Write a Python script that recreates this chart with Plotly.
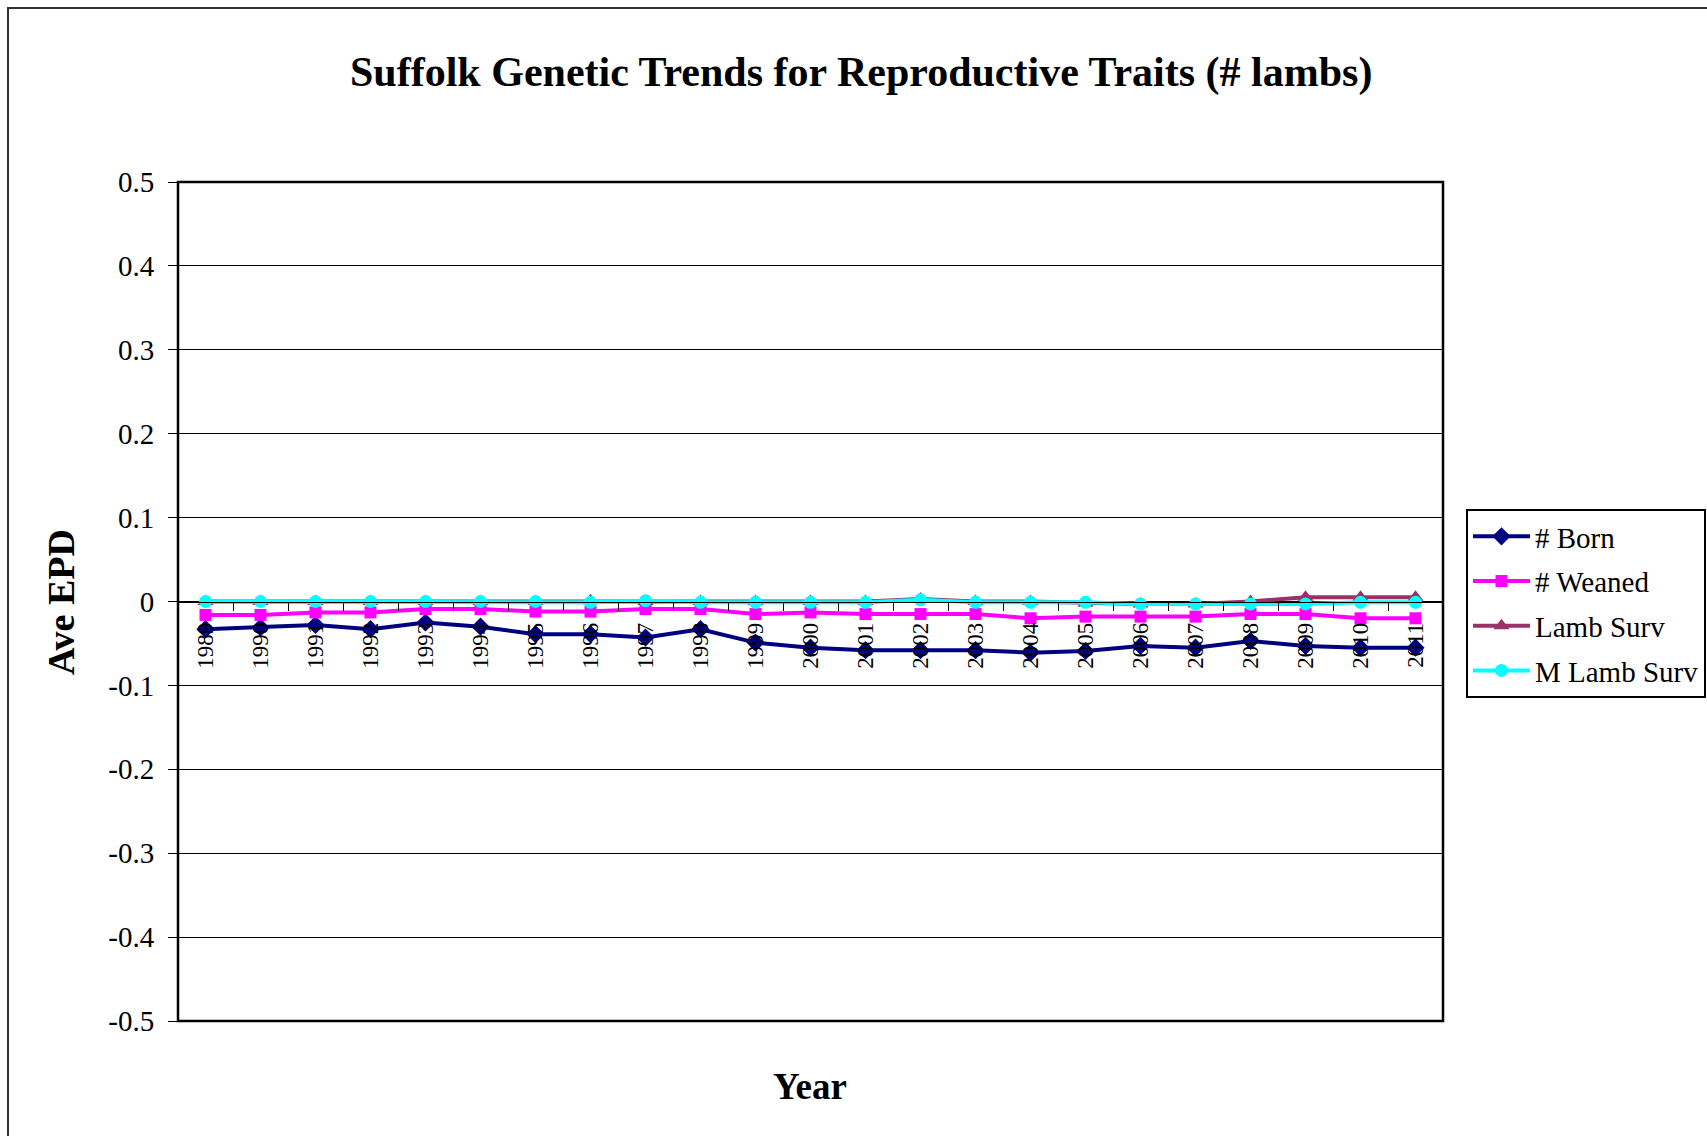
import plotly.graph_objects as go

# Average EPD by birth year
years = [str(y) for y in range(1989, 2012)]

born = [-0.033, -0.031, -0.028, -0.033, -0.025, -0.030, -0.039, -0.039,
        -0.043, -0.033, -0.049, -0.055, -0.058, -0.058, -0.058, -0.061,
        -0.059, -0.053, -0.055, -0.047, -0.053, -0.055, -0.055]

weaned = [-0.016, -0.016, -0.013, -0.013, -0.009, -0.009, -0.012, -0.012,
          -0.009, -0.009, -0.015, -0.013, -0.015, -0.015, -0.015, -0.020,
          -0.018, -0.018, -0.018, -0.015, -0.015, -0.020, -0.020]

lamb_surv = [0.000, 0.000, 0.000, 0.000, 0.000, 0.000, 0.000, 0.001,
             0.000, 0.000, 0.000, 0.000, 0.000, 0.003, 0.000, 0.000,
             -0.002, -0.003, -0.003, 0.000, 0.005, 0.005, 0.005]

m_lamb_surv = [0.000, 0.000, 0.000, 0.000, 0.000, 0.000, 0.000, -0.001,
               0.001, -0.001, -0.001, -0.001, -0.001, 0.002, -0.001, -0.001,
               -0.001, -0.003, -0.003, -0.003, -0.003, -0.001, -0.001]

y_ticks = [0.5, 0.4, 0.3, 0.2, 0.1, 0, -0.1, -0.2, -0.3, -0.4, -0.5]
y_tick_text = ["0.5", "0.4", "0.3", "0.2", "0.1", "0",
               "-0.1", "-0.2", "-0.3", "-0.4", "-0.5"]

series = [
    ("# Born", born, "#000080", "diamond", 14),
    ("# Weaned", weaned, "#FF00FF", "square", 12),
    ("Lamb Surv", lamb_surv, "#993366", "triangle-up", 14),
    ("M Lamb Surv", m_lamb_surv, "#00FFFF", "circle", 13),
]

W, H = 1707, 1136
L, R, T, B = 178, 264, 182, 115
PW, PH = W - L - R, H - T - B
SERIF = "Liberation Serif"


def px_x(px):
    return (px - L) / PW


def px_y(py):
    return (H - B - py) / PH


fig = go.Figure()
for i, (name, vals, color, symbol, size) in enumerate(series):
    fig.add_trace(go.Scatter(
        x=years, y=vals, name=name, mode="lines+markers",
        legendgroup=f"g{i}",
        line=dict(color=color, width=4),
        marker=dict(symbol=symbol, size=size, color=color),
    ))

fig.update_layout(
    width=W, height=H,
    margin=dict(l=L, r=R, t=T, b=B, autoexpand=False),
    paper_bgcolor="white", plot_bgcolor="white",
    font=dict(family=SERIF, color="black"),
    showlegend=True,
    legend=dict(
        x=px_x(1466), y=px_y(509), xanchor="left", yanchor="top",
        bgcolor="white", bordercolor="black", borderwidth=2,
        font=dict(family=SERIF, size=29, color="black"),
        traceorder="grouped", tracegroupgap=4, itemwidth=57,
    ),
    xaxis=dict(
        type="category", range=[-0.5, len(years) - 0.5],
        anchor="free", position=0.5,
        showline=True, linecolor="black", linewidth=1,
        ticks="outside", ticklen=8, tickcolor="black", tickson="boundaries",
        tickangle=-90, ticklabelstandoff=11,
        tickfont=dict(family=SERIF, size=23, color="black"),
        showgrid=False, zeroline=False,
    ),
    yaxis=dict(
        range=[-0.5, 0.5], tickvals=y_ticks, ticktext=y_tick_text,
        ticks="outside", ticklen=9, tickcolor="black", ticklabelstandoff=8,
        tickfont=dict(family=SERIF, size=29, color="black"),
        showgrid=True, gridcolor="black", gridwidth=1,
        zeroline=True, zerolinecolor="black", zerolinewidth=1,
        showline=False,
    ),
    shapes=[
        # plot area frame
        dict(type="rect", xref="x domain", yref="y domain",
             x0=0, x1=1, y0=0, y1=1, line=dict(color="black", width=2.5)),
        # chart area frame
        dict(type="rect", xref="paper", yref="paper",
             x0=px_x(8), x1=px_x(W + 20), y0=px_y(8), y1=px_y(H + 20),
             line=dict(color="#333333", width=2)),
    ],
    annotations=[
        dict(text="<b>Suffolk Genetic Trends for Reproductive Traits (# lambs)</b>",
             xref="paper", yref="paper", x=px_x(861), y=px_y(72),
             xanchor="center", yanchor="middle", showarrow=False,
             font=dict(family=SERIF, size=42, color="black")),
        dict(text="<b>Ave EPD</b>", textangle=-90,
             xref="paper", yref="paper", x=px_x(61), y=px_y(602),
             xanchor="center", yanchor="middle", showarrow=False,
             font=dict(family=SERIF, size=38, color="black")),
        dict(text="<b>Year</b>",
             xref="paper", yref="paper", x=px_x(810), y=px_y(1086),
             xanchor="center", yanchor="middle", showarrow=False,
             font=dict(family=SERIF, size=37, color="black")),
    ],
)

fig.write_html("out.html")
